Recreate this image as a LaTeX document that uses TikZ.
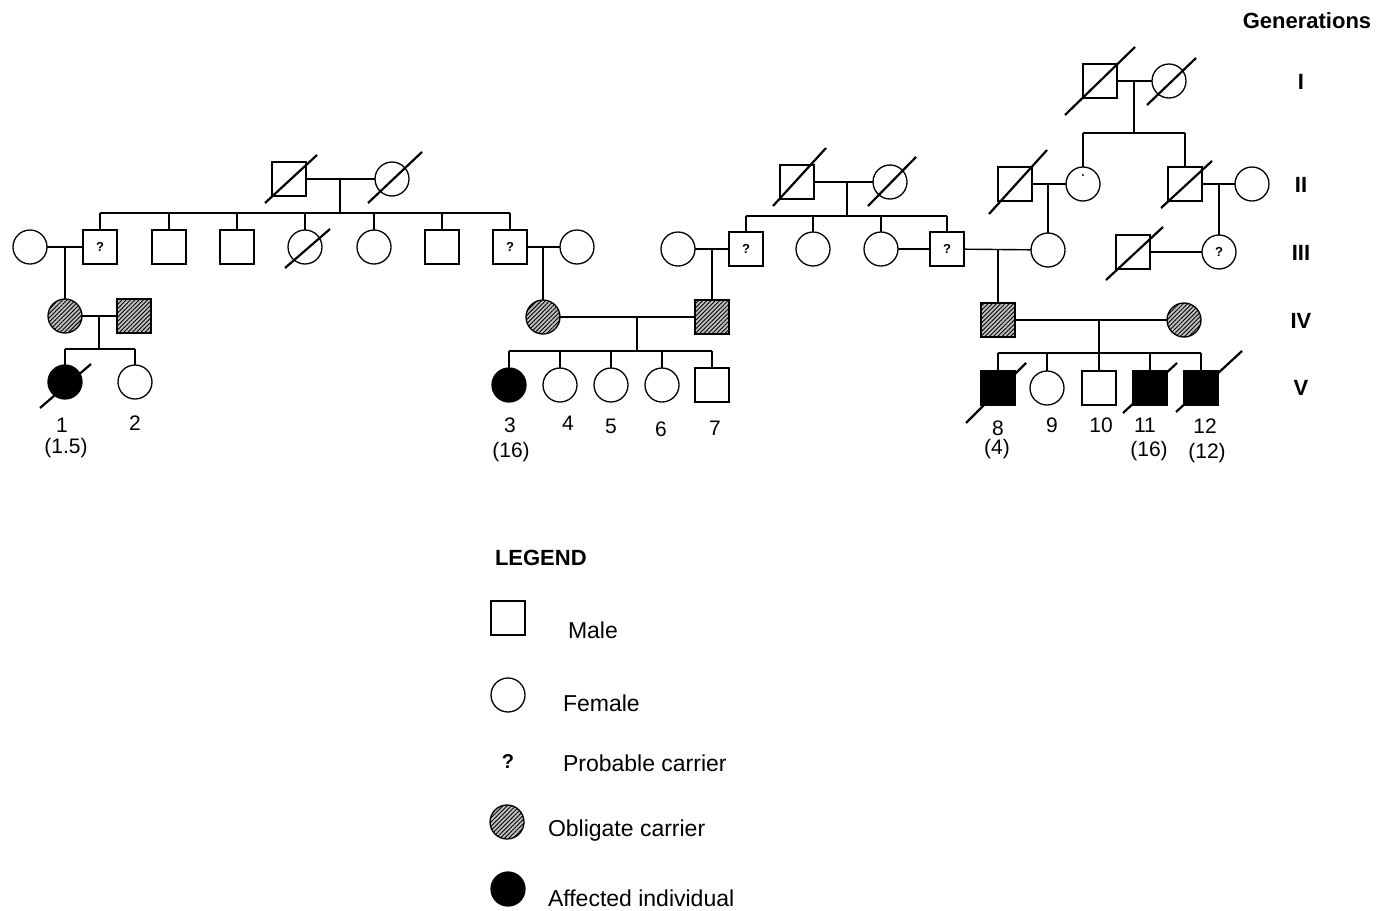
\documentclass[tikz,border=0pt]{standalone}
\usepackage{fontspec}
\setmainfont{Liberation Sans}
\usetikzlibrary{patterns.meta}
\newcommand\dslash[5]{\draw[slash] ([shift={(#2,#3)}]#1.center) -- ([shift={(#4,#5)}]#1.center);}
\begin{document}
\begin{tikzpicture}[x=1pt,y=-1pt,
  every node/.style={inner sep=0pt, outer sep=0pt},
  ln/.style={line width=1.4pt},
  male/.style={draw, line width=1.3pt, rectangle, minimum size=34pt},
  female/.style={draw, line width=1.3pt, circle, minimum size=34pt},
  carrier/.style={preaction={fill=gray!50}, pattern={Lines[angle=45,distance=3pt,line width=0.9pt]}},
  affected/.style={fill=black},
  qm/.style={font=\bfseries\fontsize{13}{13}\selectfont},
  slash/.style={line width=2.2pt},
  lbl/.style={font=\fontsize{21}{23}\selectfont},
  gen/.style={font=\bfseries\fontsize{22}{24}\selectfont},
  leg/.style={font=\fontsize{23}{25}\selectfont, anchor=west}
]
\useasboundingbox (0,0) rectangle (1380,910);

% ---------------- Left family ----------------
\node[male] (LI1) at (289,179) {};
\node[female] (LI2) at (392,179) {};
\node[female] (Lw) at (30,247) {};
\node[male,qm] (q1) at (100,247) {?};
\node[male] (b2) at (169,247) {};
\node[male] (b3) at (237,247) {};
\node[female] (s4) at (305,247) {};
\node[female] (s5) at (374,247) {};
\node[male] (b6) at (442,247) {};
\node[male,qm] (q2) at (510,247) {?};
\node[female] (Lw2) at (577,247) {};
\node[female,carrier] (c1) at (65,316) {};
\node[male,carrier] (c2) at (134,316) {};
\node[female,affected] (v1) at (65,382) {};
\node[female] (v2) at (135,382) {};

\draw[ln] (LI1) -- (LI2);
\coordinate (dL1) at (340,179);
\coordinate (sL1) at (340,213);
\draw[ln] (dL1) -- (sL1);
\draw[ln] (q1.north |- sL1) -- (q2.north |- sL1);
\foreach \n in {q1,b2,b3,s4,s5,b6,q2} \draw[ln] (\n.north) -- (\n.north |- sL1);
\draw[ln] (Lw) -- (q1);
\draw[ln] (c1.north |- Lw) -- (c1.north);
\draw[ln] (c1) -- (c2);
\coordinate (dL3) at (99,316);
\coordinate (sL3) at (99,349);
\draw[ln] (dL3) -- (sL3);
\draw[ln] (v1.north |- sL3) -- (v2.north |- sL3);
\foreach \n in {v1,v2} \draw[ln] (\n.north) -- (\n.north |- sL3);

% ---------------- Middle family ----------------
\node[male] (MI1) at (797,182) {};
\node[female] (MI2) at (890,182) {};
\node[female] (mw) at (678,249) {};
\node[male,qm] (q3) at (746,249) {?};
\node[female] (ms1) at (813,249) {};
\node[female] (ms2) at (881,249) {};
\node[male,qm] (q4) at (947,249) {?};
\node[female,carrier] (c3) at (543,317) {};
\node[male,carrier] (c4) at (712,317) {};
\node[female,affected] (v3) at (509,385) {};
\node[female] (v4) at (560,385) {};
\node[female] (v5) at (611,385) {};
\node[female] (v6) at (662,385) {};
\node[male] (v7) at (712,385) {};

\draw[ln] (q2) -- (Lw2);
\draw[ln] (c3.north |- q2) -- (c3.north);
\draw[ln] (mw) -- (q3);
\draw[ln] (c4.north |- q3) -- (c4.north);
\draw[ln] (MI1) -- (MI2);
\coordinate (dM1) at (847,182);
\coordinate (sM1) at (847,216);
\draw[ln] (dM1) -- (sM1);
\draw[ln] (q3.north |- sM1) -- (q4.north |- sM1);
\foreach \n in {q3,ms1,ms2,q4} \draw[ln] (\n.north) -- (\n.north |- sM1);
\draw[ln] (ms2) -- (q4);
\draw[ln] (c3) -- (c4);
\coordinate (dM3) at (637,317);
\coordinate (sM3) at (637,351);
\draw[ln] (dM3) -- (sM3);
\draw[ln] (v3.north |- sM3) -- (v7.north |- sM3);
\foreach \n in {v3,v4,v5,v6,v7} \draw[ln] (\n.north) -- (\n.north |- sM3);

% ---------------- Right family ----------------
\node[male] (RI1) at (1100,81) {};
\node[female] (RI2) at (1169,81) {};
\node[male] (r1) at (1015,184) {};
\node[female] (r2) at (1083,184) {};
\node[male] (r3) at (1185,184) {};
\node[female] (r4) at (1252,184) {};
\node[female] (r5) at (1048,250) {};
\node[male] (r6) at (1133,252) {};
\node[female,qm] (r7) at (1219,252) {?};
\node[male,carrier] (c5) at (998,320) {};
\node[female,carrier] (c6) at (1184,320) {};
\node[male,affected] (v8) at (998,388) {};
\node[female] (v9) at (1047,388) {};
\node[male] (v10) at (1099,388) {};
\node[male,affected] (v11) at (1150,388) {};
\node[male,affected] (v12) at (1201,388) {};
\fill ([shift={(0,-9)}]r2.center) circle (1.2);

\draw[ln] (q4) -- (r5);
\draw[ln] (c5.north |- q4) -- (c5.north);
\draw[ln] (RI1) -- (RI2);
\coordinate (dR1) at (1134,81);
\coordinate (sR1) at (1134,133);
\draw[ln] (dR1) -- (sR1);
\draw[ln] (r2.north |- sR1) -- (r3.north |- sR1);
\foreach \n in {r2,r3} \draw[ln] (\n.north) -- (\n.north |- sR1);
\draw[ln] (r1) -- (r2);
\draw[ln] (r5.north |- r1) -- (r5.north);
\draw[ln] (r3) -- (r4);
\draw[ln] (r7.north |- r3) -- (r7.north);
\draw[ln] (r6) -- (r7);
\draw[ln] (c5) -- (c6);
\coordinate (dR3) at (1099,320);
\coordinate (sR3) at (1099,353);
\draw[ln] (dR3) -- (sR3);
\draw[ln] (v8.north |- sR3) -- (v12.north |- sR3);
\foreach \n in {v8,v9,v10,v11,v12} \draw[ln] (\n.north) -- (\n.north |- sR3);

% ---------------- Deceased slashes ----------------
\dslash{LI1}{-24}{24}{28}{-24}
\dslash{LI2}{-24}{24}{30}{-27}
\dslash{s4}{-20}{21}{25}{-18}
\dslash{MI1}{-24}{24}{29}{-34}
\dslash{MI2}{-22}{24}{26}{-25}
\dslash{RI1}{-35}{34}{35}{-34}
\dslash{RI2}{-22}{24}{27}{-23}
\dslash{r1}{-26}{30}{32}{-34}
\dslash{r3}{-24}{24}{27}{-23}
\dslash{r6}{-27}{28}{30}{-25}
\dslash{v1}{-25}{26}{26}{-18}
\dslash{v8}{-32}{35}{28}{-25}
\dslash{v11}{-27}{25}{27}{-25}
\dslash{v12}{-25}{24}{41}{-37}

% ---------------- Individual labels ----------------
\node[lbl] (n1) at (62,425) {1};
\node[lbl] (a1) at (66,448) {(1.5)};
\node[lbl] (n2) at (135,423) {2};
\node[lbl] (n3) at (510,425) {3};
\node[lbl] (a3) at (511,452) {(16)};
\node[lbl] (n4) at (568,423) {4};
\node[lbl] (n5) at (611,426) {5};
\node[lbl] (n6) at (661,429) {6};
\node[lbl] (n7) at (715,428) {7};
\node[lbl] (n8) at (998,428) {8};
\node[lbl] (a8) at (997,449) {(4)};
\node[lbl] (n9) at (1052,425) {9};
\node[lbl] (n10) at (1101,425) {10};
\node[lbl] (n11) at (1145,425) {11};
\node[lbl] (a11) at (1149,451) {(16)};
\node[lbl] (n12) at (1205,426) {12};
\node[lbl] (a12) at (1207,453) {(12)};

% ---------------- Generations ----------------
\node[gen] (gt) at (1307,21) {Generations};
\node[gen] (g1) at (1301,82) {I};
\node[gen] (g2) at (1301,185) {II};
\node[gen] (g3) at (1301,253) {III};
\node[gen] (g4) at (1301,321) {IV};
\node[gen] (g5) at (1301,388) {V};

% ---------------- Legend ----------------
\node[font=\bfseries\fontsize{22}{24}\selectfont, anchor=west] (lg) at (495,558) {LEGEND};
\node[male] (lgM) at (508,618) {};
\node[female] (lgF) at (508,695) {};
\node[font=\bfseries\fontsize{20}{22}\selectfont] (lgQ) at (508,762) {?};
\node[female,carrier] (lgC) at (507,822) {};
\node[female,affected] (lgA) at (508,889) {};
\node[leg] (tM) at (568,630) {Male};
\node[leg] (tF) at (563,703) {Female};
\node[leg] (tQ) at (563,763) {Probable carrier};
\node[leg] (tC) at (548,831) {Obligate carrier};
\node[leg] (tA) at (548,898) {Affected individual};
\end{tikzpicture}
\end{document}
